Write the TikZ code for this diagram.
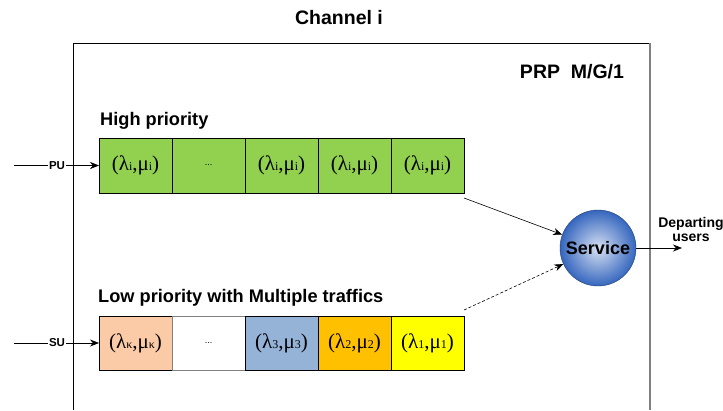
\documentclass[tikz,border=0pt]{standalone}
\usepackage{fontspec}
\setmainfont{Liberation Sans}
\newfontfamily\timesfont{Liberation Serif}
\usetikzlibrary{arrows.meta, positioning, shapes.geometric}
\tikzstyle{arrow} = [semithick,-{Stealth[length=9pt, width=7pt]}]

\definecolor{hpgreen}{HTML}{92D050}
\definecolor{peach}{HTML}{FBCBA7}
\definecolor{steel}{HTML}{95B3D7}
\definecolor{amber}{HTML}{FFC000}
\definecolor{lemon}{HTML}{FFFF00}
\definecolor{ballblue}{HTML}{3566BE}

\newcommand{\lampair}[1]{{\timesfont\fontsize{21}{21}\selectfont(λ{\fontsize{12}{12}\selectfont #1},μ{\fontsize{12}{12}\selectfont #1})}}
\newcommand{\celldots}{{\fontsize{9}{9}\selectfont ...}}

\begin{document}
\begin{tikzpicture}[x=1pt, y=-1pt, node distance=0pt,
            cell/.style={rectangle, draw=black, minimum width=73pt, minimum height=55pt, inner sep=0pt, outer sep=0pt},
            lowcell/.style={cell, minimum height=54pt},
            title/.style={font=\fontsize{19.5}{22}\selectfont\bfseries, inner sep=0pt},
            lbl/.style={font=\fontsize{18.2}{20}\selectfont\bfseries, inner sep=0pt, anchor=west},
            user/.style={font=\fontsize{11.5}{12}\selectfont\bfseries, inner sep=1pt}]

            \useasboundingbox (0,0) rectangle (723,410);

            % Channel frame (open at the bottom)
            \draw (73,410) -- (73,43) -- (650,43);
            \draw[gray, line width=1.4pt] (650,43) -- (650,410);

            % Titles
            \node[title] (chan) at (339,18) {Channel i};
            \node[title] (prp) at (572,72) {PRP\ \ M/G/1};
            \node[lbl] (hilbl) at (100,121) {High priority};
            \node[lbl] (lolbl) at (98,298) {Low priority with Multiple traffics};

            % High priority queue
            \node[cell, fill=hpgreen] (hc1) at (135.5,165.5) {\lampair{i}};
            \node[cell, fill=hpgreen, right=of hc1] (hc2) {\celldots};
            \node[cell, fill=hpgreen, right=of hc2] (hc3) {\lampair{i}};
            \node[cell, fill=hpgreen, right=of hc3] (hc4) {\lampair{i}};
            \node[cell, fill=hpgreen, right=of hc4] (hc5) {\lampair{i}};

            % Low priority queue
            \node[lowcell, fill=peach] (lc1) at (135.5,343) {\lampair{κ}};
            \node[lowcell, fill=white, draw=gray, right=of lc1] (lc2) {\celldots};
            \node[lowcell, fill=steel, right=of lc2] (lc3) {\lampair{3}};
            \node[lowcell, fill=amber, right=of lc3] (lc4) {\lampair{2}};
            \node[lowcell, fill=lemon, right=of lc4] (lc5) {\lampair{1}};

            % Server
            \node[circle, minimum size=76pt, inner sep=0pt, draw=ballblue!60!black, inner color=white!80!ballblue, outer color=ballblue,
                  font=\fontsize{18}{20}\selectfont\bfseries] (service) at (598,248) {Service};
            \node[align=center, font=\fontsize{14}{14}\selectfont\bfseries, inner sep=0pt] (depart) at (691,229) {Departing\\users};
            \coordinate (outend) at (682,248);

            % Arrivals
            \coordinate (puin) at (14,165.5);
            \coordinate (suin) at (14,343);
            \node[user] (pu) at (57,165.5) {PU};
            \node[user] (su) at (57,343) {SU};

            % Arrows
            \draw (puin) -- (pu);
            \draw[arrow] (pu) -- (hc1);
            \draw (suin) -- (su);
            \draw[arrow] (su) -- (lc1);
            \draw[arrow] ([yshift=-5pt]hc5.south east) -- (service);
            \draw[arrow, dash pattern=on 3pt off 2pt] ([yshift=6pt]lc5.north east) -- (service);
            \draw[arrow] (service) -- (outend);
        \end{tikzpicture}
\end{document}
